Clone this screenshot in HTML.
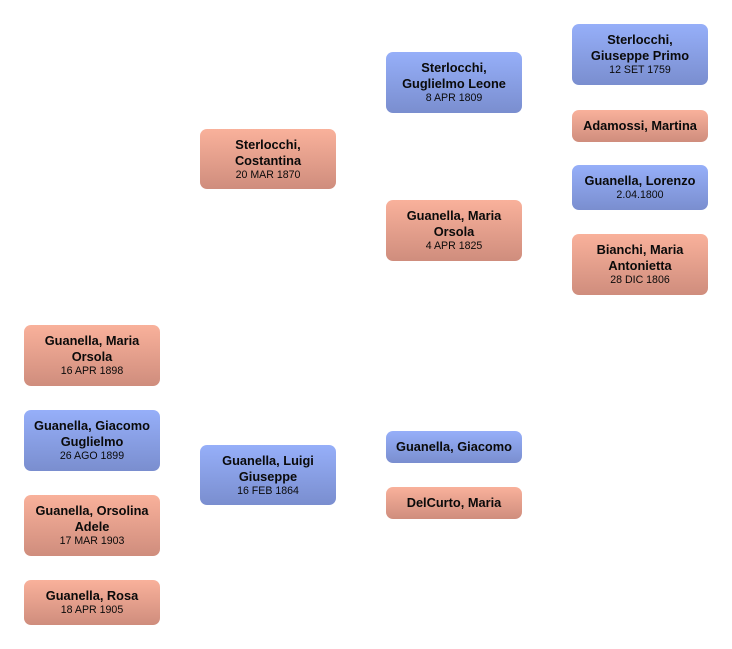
<!DOCTYPE html>
<html>
<head>
<meta charset="utf-8">
<style>
html,body{margin:0;padding:0;background:#fff;}
body{width:732px;height:649px;position:relative;overflow:hidden;font-family:"Liberation Sans",sans-serif;}
.b{position:absolute;width:136px;border-radius:7px;display:flex;flex-direction:column;justify-content:center;align-items:center;text-align:center;color:#0a0a0a;box-sizing:border-box;}
.f{background:linear-gradient(to bottom,#f9b19b,#cf8d7d);}
.m{background:linear-gradient(to bottom,#96aff9,#7a8ecf);}
.n{font-weight:bold;font-size:12.8px;line-height:16px;}
.d{font-size:10.6px;line-height:13px;}
</style>
</head>
<body>
<!-- column 1 -->
<div class="b f" style="left:24px;top:325px;height:61px;"><div class="n">Guanella, Maria<br>Orsola</div><div class="d">16 APR 1898</div></div>
<div class="b m" style="left:24px;top:410px;height:61px;"><div class="n">Guanella, Giacomo<br>Guglielmo</div><div class="d">26 AGO 1899</div></div>
<div class="b f" style="left:24px;top:495px;height:61px;"><div class="n">Guanella, Orsolina<br>Adele</div><div class="d">17 MAR 1903</div></div>
<div class="b f" style="left:24px;top:580px;height:45px;"><div class="n">Guanella, Rosa</div><div class="d">18 APR 1905</div></div>
<!-- column 2 -->
<div class="b f" style="left:200px;top:129px;height:60px;"><div class="n">Sterlocchi,<br>Costantina</div><div class="d">20 MAR 1870</div></div>
<div class="b m" style="left:200px;top:445px;height:60px;"><div class="n">Guanella, Luigi<br>Giuseppe</div><div class="d">16 FEB 1864</div></div>
<!-- column 3 -->
<div class="b m" style="left:386px;top:52px;height:61px;"><div class="n">Sterlocchi,<br>Guglielmo Leone</div><div class="d">8 APR 1809</div></div>
<div class="b f" style="left:386px;top:200px;height:61px;"><div class="n">Guanella, Maria<br>Orsola</div><div class="d">4 APR 1825</div></div>
<div class="b m" style="left:386px;top:431px;height:32px;"><div class="n">Guanella, Giacomo</div></div>
<div class="b f" style="left:386px;top:487px;height:32px;"><div class="n">DelCurto, Maria</div></div>
<!-- column 4 -->
<div class="b m" style="left:572px;top:24px;height:61px;"><div class="n">Sterlocchi,<br>Giuseppe Primo</div><div class="d">12 SET 1759</div></div>
<div class="b f" style="left:572px;top:110px;height:32px;"><div class="n">Adamossi, Martina</div></div>
<div class="b m" style="left:572px;top:165px;height:45px;"><div class="n">Guanella, Lorenzo</div><div class="d">2.04.1800</div></div>
<div class="b f" style="left:572px;top:234px;height:61px;"><div class="n">Bianchi, Maria<br>Antonietta</div><div class="d">28 DIC 1806</div></div>
</body>
</html>
